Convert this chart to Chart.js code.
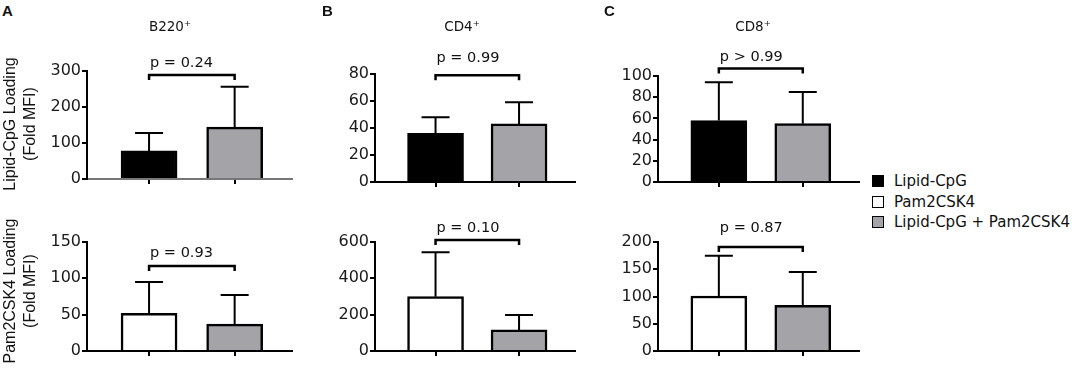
<!DOCTYPE html>
<html>
<head>
<meta charset="utf-8">
<script src="https://cdn.jsdelivr.net/npm/chart.js@4.4.0/dist/chart.umd.min.js"></script>
<style>
  body { margin: 0; background: #fff; }
  #fig { position: relative; width: 1080px; height: 368px; overflow: hidden; font-family: "DejaVu Sans", sans-serif; color: #111; }
  #fig canvas { position: absolute; }
  .letter { position: absolute; font: bold 15px "Liberation Sans", Arial, sans-serif; line-height: 16px; }
  .title { position: absolute; width: 100px; text-align: center; font-size: 13.5px; line-height: 16px; }
  .ytitle { position: absolute; width: 180px; height: 40px; text-align: center; font: 16px/20px "Liberation Sans", Arial, sans-serif; transform: rotate(-90deg); }
  .legend { position: absolute; left: 872px; top: 171px; list-style: none; margin: 0; padding: 0; font-size: 15px; }
  .legend li { display: flex; align-items: center; height: 20.5px; }
  .legend .box { width: 12px; height: 12px; box-sizing: border-box; border: 1.5px solid #000; margin-right: 10px; }
</style>
</head>
<body>
<div id="fig"></div>
<script>
// data
const cellTypes = ['B220⁺', 'CD4⁺', 'CD8⁺'];
const groups = ['Lipid-CpG', 'Pam2CSK4', 'Lipid-CpG + Pam2CSK4'];
const rowTitles = [['Lipid-CpG Loading', '(Fold MFI)'], ['Pam2CSK4 Loading', '(Fold MFI)']];

// top row: Lipid-CpG loading, Lipid-CpG alone vs combination
const lipidSingle = [78, 36, 58];
const lipidSingleSd = [50, 12, 36];
const lipidCombo = [144, 43, 55];
const lipidComboSd = [112, 16, 30];
const lipidP = ['p = 0.24', 'p = 0.99', 'p > 0.99'];
const lipidBracket = [289, 79, 107];
const lipidYMax = [300, 80, 100];
const lipidYStep = [100, 20, 20];

// bottom row: Pam2CSK4 loading, Pam2CSK4 alone vs combination
const pamSingle = [52, 299, 101];
const pamSingleSd = [43, 244, 74];
const pamCombo = [37, 116, 84];
const pamComboSd = [40, 82, 61];
const pamP = ['p = 0.93', 'p = 0.10', 'p = 0.87'];
const pamBracket = [117, 611, 191];
const pamYMax = [150, 600, 200];
const pamYStep = [50, 200, 50];

const groupColors = ['#000000', '#ffffff', '#a4a4a8'];

// layout of the plot areas (pixels)
const axisLeft = [87, 375, 658];
const axisRight = [292, 575, 859];
const plotTop = [[71, 74, 76], [242, 242, 242]];
const plotBottom = [[179, 182, 182], [351, 351, 351]];
const textGap = [[12, 17, 11], [13, 12, 19]];
const YW = 60, XH = 14, PT = 50, PR = 8;

const fig = document.getElementById('fig');

const errorBars = {
  id: 'errorBars',
  afterDraw(chart, args, opts) {
    const ctx = chart.ctx;
    const y = chart.scales.y;
    const bars = chart.getDatasetMeta(0).data;
    const values = chart.data.datasets[0].data;
    ctx.save();
    ctx.strokeStyle = '#000';
    ctx.lineWidth = 2;
    bars.forEach((bar, i) => {
      const top = y.getPixelForValue(values[i].y + opts.sds[i]);
      ctx.beginPath();
      ctx.moveTo(bar.x, bar.y);
      ctx.lineTo(bar.x, top);
      ctx.moveTo(bar.x - 14, top);
      ctx.lineTo(bar.x + 14, top);
      ctx.stroke();
    });
    // significance bracket
    const py = y.getPixelForValue(opts.bracket);
    const x1 = bars[0].x, x2 = bars[1].x;
    ctx.lineWidth = 2.5;
    ctx.beginPath();
    ctx.moveTo(x1, py + 5);
    ctx.lineTo(x1, py);
    ctx.lineTo(x2, py);
    ctx.lineTo(x2, py + 5);
    ctx.stroke();
    ctx.fillStyle = '#111';
    ctx.font = '14.5px "DejaVu Sans"';
    ctx.textAlign = 'left';
    ctx.textBaseline = 'middle';
    ctx.fillText(opts.label, x1 + 1, py - opts.gap);
    ctx.restore();
  }
};

function makePanel(col, row) {
  const top = row === 0;
  const means = top ? [lipidSingle[col], lipidCombo[col]] : [pamSingle[col], pamCombo[col]];
  const sds = top ? [lipidSingleSd[col], lipidComboSd[col]] : [pamSingleSd[col], pamComboSd[col]];
  const colors = top ? [groupColors[0], groupColors[2]] : [groupColors[1], groupColors[2]];
  const t = plotTop[row][col], b = plotBottom[row][col];
  const l = axisLeft[col], r = axisRight[col];

  const canvas = document.createElement('canvas');
  canvas.width = YW + (r - l) + PR;
  canvas.height = PT + (b - t) + XH;
  canvas.style.left = (l - YW) + 'px';
  canvas.style.top = (t - PT) + 'px';
  fig.appendChild(canvas);

  const dashed = top && col === 0;

  new Chart(canvas.getContext('2d'), {
    type: 'bar',
    data: {
      datasets: [{
        data: means.map((v, i) => ({ x: i + 1, y: v })),
        backgroundColor: colors,
        borderColor: '#000',
        borderWidth: 2.5,
        barThickness: 56
      }]
    },
    options: {
      responsive: false,
      animation: false,
      layout: { padding: { top: PT, right: PR, left: 0, bottom: 0 } },
      plugins: {
        legend: { display: false },
        tooltip: { enabled: false },
        errorBars: {
          sds: sds,
          bracket: top ? lipidBracket[col] : pamBracket[col],
          label: top ? lipidP[col] : pamP[col],
          gap: textGap[row][col]
        }
      },
      scales: {
        x: {
          type: 'linear',
          min: 0.275,
          max: 2.67,
          offset: false,
          afterBuildTicks: s => { s.ticks = [{ value: 1 }, { value: 2 }]; },
          afterFit: s => { s.height = XH; },
          ticks: { display: false },
          grid: { offset: false, drawOnChartArea: false, color: '#000', lineWidth: 2, tickLength: 5 },
          border: dashed
            ? { color: '#777', width: 2, dash: [3, 2] }
            : { color: '#000', width: 2 }
        },
        y: {
          min: 0,
          max: top ? lipidYMax[col] : pamYMax[col],
          afterFit: s => { s.width = YW; },
          ticks: {
            stepSize: top ? lipidYStep[col] : pamYStep[col],
            autoSkip: false,
            color: '#1a1a1a',
            padding: 1,
            font: { family: 'DejaVu Sans', size: 16 }
          },
          grid: { drawOnChartArea: false, color: '#000', lineWidth: 2, tickLength: 5 },
          border: { color: '#000', width: 2 }
        }
      }
    },
    plugins: [errorBars]
  });
}

for (let row = 0; row < 2; row++) {
  for (let col = 0; col < 3; col++) makePanel(col, row);
}

// panel letters and titles
const letterX = [2, 322, 604];
['A', 'B', 'C'].forEach((s, i) => {
  const d = document.createElement('div');
  d.className = 'letter';
  d.style.left = letterX[i] + 'px';
  d.style.top = '3px';
  d.textContent = s;
  fig.appendChild(d);
});
const titleX = [170, 462, 753];
cellTypes.forEach((s, i) => {
  const d = document.createElement('div');
  d.className = 'title';
  d.style.left = (titleX[i] - 50) + 'px';
  d.style.top = '18px';
  d.textContent = s;
  fig.appendChild(d);
});

// y-axis titles
const yTitleCenter = [124, 291];
rowTitles.forEach((lines, i) => {
  const d = document.createElement('div');
  d.className = 'ytitle';
  d.style.left = (20 - 90) + 'px';
  d.style.top = (yTitleCenter[i] - 20) + 'px';
  d.innerHTML = lines.join('<br>');
  fig.appendChild(d);
});

// legend
const ul = document.createElement('ul');
ul.className = 'legend';
groups.forEach((g, i) => {
  const li = document.createElement('li');
  const box = document.createElement('span');
  box.className = 'box';
  box.style.background = groupColors[i];
  li.appendChild(box);
  li.appendChild(document.createTextNode(g));
  ul.appendChild(li);
});
fig.appendChild(ul);
</script>
</body>
</html>
